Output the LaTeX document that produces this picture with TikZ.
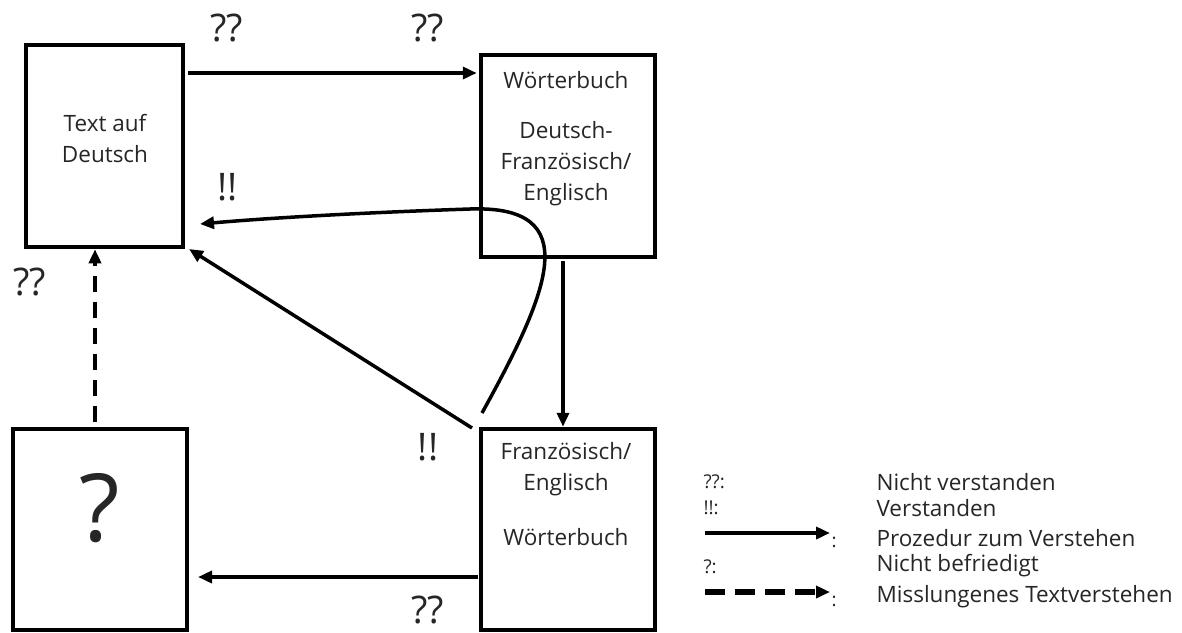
\documentclass[tikz,border=0pt]{standalone}
\usepackage{fontspec}
\setmainfont{Open Sans}
\usetikzlibrary{arrows.meta,calc}
\definecolor{inkgray}{RGB}{38,38,38}
\tikzset{
	box/.style={draw, line width=4.5pt, inner sep=0pt},
	boxtext/.style={text=inkgray, font=\fontsize{22.5}{31}\selectfont, align=center},
	qmark/.style={text=inkgray, font=\fontsize{38}{38}\selectfont},
	flow/.style={line width=3.5pt, -{Triangle[length=14pt,width=12pt]}},
	fail/.style={flow, dash pattern=on 16pt off 10pt},
	legtext/.style={text=inkgray, font=\fontsize{22.5}{26}\selectfont, anchor=west},
	legsym/.style={text=inkgray, font=\fontsize{19}{20}\selectfont, anchor=west}
}

\begin{document}
\begin{tikzpicture}[x=1pt,y=-1pt]
		\useasboundingbox (0,0) rectangle (1182,632);
		% boxes
		\node[box, minimum width=157pt, minimum height=202pt] (deText) at (104.5,146) {};
		\node[box, minimum width=174pt, minimum height=202pt] (dictDF) at (568,156) {};
		\node[box, minimum width=174pt, minimum height=201pt] (dictFD) at (568,529.5) {};
		\node[box, minimum width=174pt, minimum height=201pt] (unsure) at (100,529.5) {};
		% texts in the boxes
		\node[boxtext] (deTextLbl) at (105,138) {Text auf\\Deutsch};
		\node[boxtext] (dictDFtitle) at (566,80) {Wörterbuch};
		\node[boxtext] (dictDFlbl) at (566,164) {Deutsch-\\Französisch/\\Englisch};
		\node[boxtext] (dictFDlbl) at (566,469) {Französisch/\\Englisch};
		\node[boxtext] (dictFDtitle) at (566,537) {Wörterbuch};
		\node[text=inkgray, font=\fontsize{94}{94}\selectfont] (bigQ) at (100,508) {?};
		% marks
		\node[qmark] (q1) at (227,28) {??};
		\node[qmark] (q2) at (428,28) {??};
		\node[qmark] (e1) at (228,187) {!!};
		\node[qmark] (q3) at (30,282) {??};
		\node[qmark] (e2) at (428,447) {!!};
		\node[qmark] (q4) at (428,610) {??};
		% connectors
		\coordinate (abStart) at (188,73);
		\draw[flow, shorten >=2pt] (abStart) -- (abStart -| dictDF.west);
		\coordinate (bcLine) at (563,0);
		\draw[flow, shorten <=2pt] (bcLine |- dictDF.south) -- (bcLine |- dictFD.north);
		\coordinate (cdStart) at (478,577);
		\coordinate (cdEnd) at (198,577);
		\draw[flow] (cdStart) -- (cdEnd);
		\coordinate (failStart) at (95,422);
		\draw[fail] (failStart) -- (failStart |- deText.south) ;
		\coordinate (diagStart) at (472,428);
		\coordinate (diagEnd) at (189,249);
		\draw[flow] (diagStart) -- (diagEnd);
		\coordinate (loopStart) at (482,413);
		\coordinate (loopTop) at (470,209);
		\coordinate (loopEnd) at (200,224);
		\draw[flow] (loopStart) .. controls (550,290) and (585,205) .. (loopTop)
			.. controls (380,212) and (280,217) .. (loopEnd);
		% legend
		\node[legsym] (kq) at (700,482) {??:};
		\node[legsym] (ke) at (700,508) {!!:};
		\node[legsym] (kz) at (700,567) {?:};
		\coordinate (kFlowA) at (705,533);
		\coordinate (kFlowB) at (830,533);
		\draw[flow, line width=4.5pt] (kFlowA) -- (kFlowB);
		\node[legsym] (kFlowC) at (828,542) {:};
		\coordinate (kFailA) at (705,592);
		\coordinate (kFailB) at (830,592);
		\draw[flow, line width=5.5pt, dash pattern=on 20pt off 10pt] (kFailA) -- (kFailB);
		\node[legsym] (kFailC) at (828,601) {:};
		\node[legtext] (t1) at (873,482) {Nicht verstanden};
		\node[legtext] (t2) at (873,508) {Verstanden};
		\node[legtext] (t3) at (873,538) {Prozedur zum Verstehen};
		\node[legtext] (t4) at (873,566) {Nicht befriedigt};
		\node[legtext] (t5) at (873,597) {Misslungenes Textverstehen};
\end{tikzpicture}
\end{document}
